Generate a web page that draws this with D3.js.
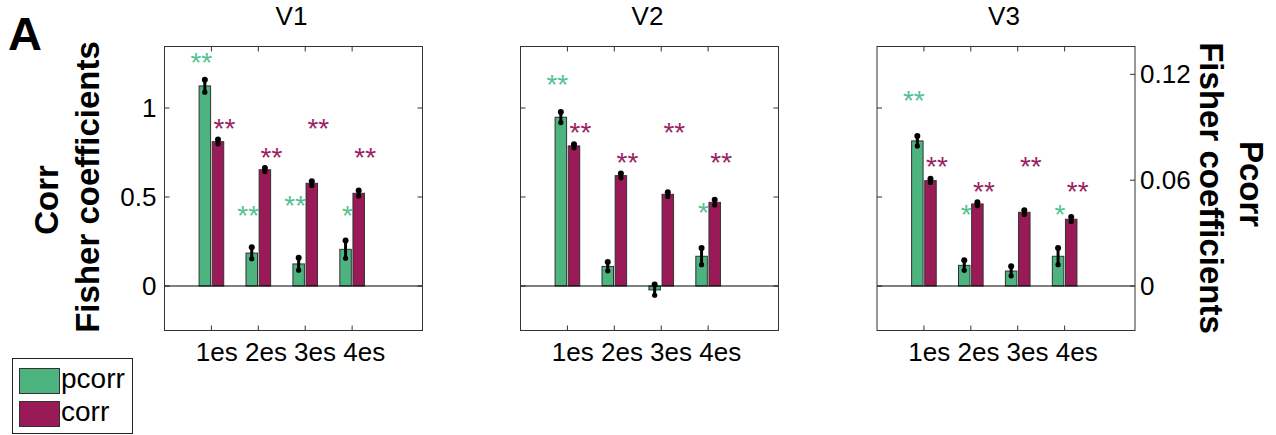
<!DOCTYPE html>
<html>
<head>
<meta charset="utf-8">
<script src="https://cdn.jsdelivr.net/npm/d3@7"></script>
<style>
  body { margin: 0; background: #fff; }
  svg { display: block; font-family: "Liberation Sans", Arial, sans-serif; }
</style>
</head>
<body>
<div id="container"></div>
<script>
const width = 1276;
const height = 435;

// data
const categories = ["1es", "2es", "3es", "4es"];
const panelNames = ["V1", "V2", "V3"];
const seriesNames = ["pcorr", "corr"];

const v1Pcorr = [1.124, 0.185, 0.124, 0.206];
const v1PcorrErr = [0.035, 0.032, 0.035, 0.05];
const v1Corr = [0.811, 0.653, 0.577, 0.521];
const v1CorrErr = [0.012, 0.01, 0.012, 0.015];

const v2Pcorr = [0.948, 0.11, -0.022, 0.167];
const v2PcorrErr = [0.03, 0.025, 0.03, 0.047];
const v2Corr = [0.787, 0.62, 0.515, 0.47];
const v2CorrErr = [0.01, 0.012, 0.012, 0.015];

const v3Pcorr = [0.815, 0.116, 0.084, 0.167];
const v3PcorrErr = [0.028, 0.028, 0.027, 0.047];
const v3Corr = [0.592, 0.461, 0.414, 0.375];
const v3CorrErr = [0.01, 0.01, 0.012, 0.012];

// significance marks and the height they sit at
const v1PcorrStars = ["**", "**", "**", "*"];
const v1PcorrStarY = [1.29, 0.43, 0.49, 0.43];
const v1CorrStars = ["**", "**", "**", "**"];
const v1CorrStarY = [0.92, 0.76, 0.92, 0.76];

const v2PcorrStars = ["**", "", "", "*"];
const v2PcorrStarY = [1.17, 0, 0, 0.45];
const v2CorrStars = ["**", "**", "**", "**"];
const v2CorrStarY = [0.90, 0.73, 0.90, 0.73];

const v3PcorrStars = ["**", "*", "", "*"];
const v3PcorrStarY = [1.077, 0.436, 0, 0.436];
const v3CorrStars = ["**", "**", "**", "**"];
const v3CorrStarY = [0.708, 0.567, 0.708, 0.567];

const leftTicks = [0, 0.5, 1];
const rightTicks = [0, 0.06, 0.12];

const panels = [
  {pc: v1Pcorr, pce: v1PcorrErr, c: v1Corr, ce: v1CorrErr, pcs: v1PcorrStars, pcy: v1PcorrStarY, cs: v1CorrStars, cy: v1CorrStarY},
  {pc: v2Pcorr, pce: v2PcorrErr, c: v2Corr, ce: v2CorrErr, pcs: v2PcorrStars, pcy: v2PcorrStarY, cs: v2CorrStars, cy: v2CorrStarY},
  {pc: v3Pcorr, pce: v3PcorrErr, c: v3Corr, ce: v3CorrErr, pcs: v3PcorrStars, pcy: v3PcorrStarY, cs: v3CorrStars, cy: v3CorrStarY}
];

const green = "#4db37f";
const purple = "#9a1a58";
const greenStar = "#52c294";
const purpleStar = "#9a1f63";

const svg = d3.select("div#container").append("svg")
    .attr("width", width)
    .attr("height", height);

const panelW = 258;
const yTop = 46.5, yBottom = 330.5;
const lefts = [164.5, 520.5, 877];

const xScale = d3.scaleLinear().domain([0, 5.5]).range([0, panelW]);
const yScale = d3.scaleLinear().domain([-0.25, 1.3455]).range([yBottom, yTop]);
const yRight = d3.scaleLinear().domain([-0.0252, 0.1358]).range([yBottom, yTop]);

const barW = xScale(0.245) - xScale(0);
const off = xScale(0.14) - xScale(0);

panels.forEach(function(p, i) {
    const g = svg.append("g").attr("transform", "translate(" + lefts[i] + ",0)");

    // frame ticks (inward)
    leftTicks.forEach(function(t) {
        g.append("line").attr("x1", 0).attr("x2", 5)
            .attr("y1", yScale(t)).attr("y2", yScale(t)).attr("stroke", "#333");
        if (i < 2) {
            g.append("line").attr("x1", panelW).attr("x2", panelW - 5)
                .attr("y1", yScale(t)).attr("y2", yScale(t)).attr("stroke", "#333");
        }
    });
    categories.forEach(function(c, k) {
        const x = xScale(k + 1);
        g.append("line").attr("x1", x).attr("x2", x).attr("y1", yTop).attr("y2", yTop + 5).attr("stroke", "#333");
        g.append("line").attr("x1", x).attr("x2", x).attr("y1", yBottom).attr("y2", yBottom - 5).attr("stroke", "#333");
    });

    // bars
    const rows = categories.map(function(c, k) {
        return [
            {x: k + 1, v: p.pc[k], e: p.pce[k], s: p.pcs[k], sy: p.pcy[k], series: 0},
            {x: k + 1, v: p.c[k], e: p.ce[k], s: p.cs[k], sy: p.cy[k], series: 1}
        ];
    }).flat();

    const cx = function(d) { return xScale(d.x) + (d.series === 0 ? -off : off); };

    g.selectAll("rect.bar").data(rows).enter().append("rect")
        .attr("class", "bar")
        .attr("x", function(d) { return cx(d) - barW / 2; })
        .attr("width", barW)
        .attr("y", function(d) { return yScale(Math.max(0, d.v)); })
        .attr("height", function(d) { return Math.abs(yScale(d.v) - yScale(0)); })
        .attr("fill", function(d) { return d.series === 0 ? green : purple; })
        .attr("stroke", "#333")
        .attr("stroke-width", 1);

    // zero line
    g.append("line").attr("x1", 0).attr("x2", panelW)
        .attr("y1", yScale(0)).attr("y2", yScale(0))
        .attr("stroke", "#000").attr("stroke-width", 1);

    // error bars
    g.selectAll("line.err").data(rows).enter().append("line")
        .attr("class", "err")
        .attr("x1", cx).attr("x2", cx)
        .attr("y1", function(d) { return yScale(d.v - d.e); })
        .attr("y2", function(d) { return yScale(d.v + d.e); })
        .attr("stroke", "#000").attr("stroke-width", 3);
    g.selectAll("circle.errhi").data(rows).enter().append("circle")
        .attr("cx", cx).attr("cy", function(d) { return yScale(d.v + d.e); })
        .attr("r", 3).attr("fill", "#000");
    g.selectAll("circle.errlo").data(rows).enter().append("circle")
        .attr("cx", cx).attr("cy", function(d) { return yScale(d.v - d.e); })
        .attr("r", 2.6).attr("fill", "#000");

    // stars
    g.selectAll("text.star").data(rows.filter(function(d) { return d.s; })).enter().append("text")
        .attr("class", "star")
        .attr("x", function(d) {
            if (d.series === 1) return cx(d) + 6.5;
            return cx(d) + (d.s.length === 2 ? -3.5 : 2);
        })
        .attr("y", function(d) { return yScale(d.sy) + 16; })
        .attr("text-anchor", "middle")
        .attr("font-size", 28)
        .attr("fill", function(d) { return d.series === 0 ? greenStar : purpleStar; })
        .text(function(d) { return d.s; });

    // frame
    g.append("rect").attr("x", 0).attr("y", yTop).attr("width", panelW).attr("height", yBottom - yTop)
        .attr("fill", "none").attr("stroke", "#333").attr("stroke-width", 1);

    // title
    g.append("text").attr("x", panelW / 2 - 2).attr("y", 25)
        .attr("text-anchor", "middle").attr("font-size", 26)
        .text(panelNames[i]);

    // category labels
    g.append("text").attr("x", panelW / 2 - 3).attr("y", 361)
        .attr("text-anchor", "middle").attr("font-size", 26)
        .text(categories.join(" "));

    if (i === 0) {
        const yaxis = d3.axisLeft(yScale).tickValues(leftTicks).tickSize(0).tickPadding(8)
            .tickFormat(d3.format("~g"));
        const ax = g.append("g").call(yaxis);
        ax.select(".domain").remove();
        ax.selectAll("text").attr("font-size", 26).attr("font-family", null).attr("fill", "#000");
    }
    if (i === 2) {
        rightTicks.forEach(function(t) {
            g.append("line").attr("x1", panelW).attr("x2", panelW - 5)
                .attr("y1", yRight(t)).attr("y2", yRight(t)).attr("stroke", "#333");
        });
        const raxis = d3.axisRight(yRight).tickValues(rightTicks).tickSize(0).tickPadding(5)
            .tickFormat(d3.format("~g"));
        const ax = g.append("g").attr("transform", "translate(" + panelW + ",0)").call(raxis);
        ax.select(".domain").remove();
        ax.selectAll("text").attr("font-size", 26).attr("font-family", null).attr("fill", "#000");
    }
});

// panel letter
svg.append("text").attr("x", 8).attr("y", 50)
    .attr("font-size", 47).attr("font-weight", "bold").text("A");

// axis titles
svg.append("text").attr("transform", "translate(58,200) rotate(-90)")
    .attr("text-anchor", "middle").attr("font-size", 33).attr("font-weight", "bold").text("Corr");
svg.append("text").attr("transform", "translate(99,187) rotate(-90)")
    .attr("text-anchor", "middle").attr("font-size", 33).attr("font-weight", "bold").text("Fisher coefficients");
svg.append("text").attr("transform", "translate(1200,188) rotate(90)")
    .attr("text-anchor", "middle").attr("font-size", 33).attr("font-weight", "bold").text("Fisher coefficients");
svg.append("text").attr("transform", "translate(1240,184) rotate(90)")
    .attr("text-anchor", "middle").attr("font-size", 33).attr("font-weight", "bold").text("Pcorr");

// legend
const legend = svg.append("g");
legend.append("rect").attr("x", 12.5).attr("y", 358.5).attr("width", 120).attr("height", 75)
    .attr("fill", "#fff").attr("stroke", "#222");
seriesNames.forEach(function(s, k) {
    legend.append("rect").attr("x", 19.5).attr("y", 368.5 + k * 33).attr("width", 40).attr("height", 25)
        .attr("fill", k === 0 ? green : purple).attr("stroke", "#333");
    legend.append("text").attr("x", 61).attr("y", 388 + k * 33)
        .attr("font-size", 28).text(s);
});
</script>
</body>
</html>
